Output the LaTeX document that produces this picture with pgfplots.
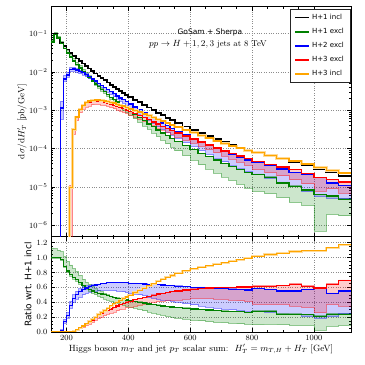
\documentclass[border=0pt]{standalone}
\usepackage{pgfplots}
\pgfplotsset{compat=1.18}
\usepackage{pgfplotstable}
\usepgfplotslibrary{fillbetween}
\usepackage{fontspec}
\newfontfamily\dejavu{DejaVu Sans}
\definecolor{mplgreen}{RGB}{0,128,0}
\definecolor{mplblue}{RGB}{0,0,255}
\definecolor{mplred}{RGB}{255,0,0}
\definecolor{mplorange}{RGB}{255,165,0}

% x = left bin edge; blk = H+1 incl [pb/GeV]; other columns = ratio wrt. H+1 incl
\pgfplotstableread{
x blk g gl gu b bl bu r rl ru o
150 0.0603 1.00 0.99 1.13 1e-6 1e-6 1e-6 1e-6 1e-6 1e-6 1e-6
160 0.0955 1.00 0.99 1.12 1e-6 1e-6 1e-6 1e-6 1e-6 1e-6 1e-6
170 0.0759 1.00 0.99 1.10 1e-6 1e-6 1e-6 1e-6 1e-6 1e-6 1e-6
180 0.0575 0.97 0.96 1.08 0.02 0.01 0.03 1e-6 1e-6 1e-6 1e-6
190 0.0468 0.88 0.87 1.01 0.14 0.12 0.17 1e-6 1e-6 1e-6 1e-6
200 0.0380 0.82 0.80 0.95 0.22 0.19 0.26 1e-6 1e-6 1e-6 1e-6
210 0.0316 0.77 0.75 0.90 0.36 0.32 0.41 0.0003 1e-6 0.00035 0.0003
220 0.0263 0.73 0.71 0.85 0.45 0.40 0.50 0.012 0.009 0.013 0.012
230 0.0221 0.70 0.68 0.81 0.50 0.44 0.55 0.030 0.024 0.032 0.030
240 0.0191 0.66 0.64 0.76 0.54 0.47 0.58 0.055 0.045 0.058 0.055
250 0.0166 0.62 0.60 0.71 0.57 0.50 0.61 0.080 0.065 0.084 0.080
260 0.0143 0.59 0.57 0.67 0.59 0.52 0.62 0.105 0.085 0.11 0.11
270 0.0123 0.57 0.545 0.64 0.61 0.535 0.63 0.13 0.105 0.135 0.14
280 0.0106 0.55 0.52 0.61 0.62 0.545 0.635 0.16 0.13 0.165 0.17
290 0.00912 0.53 0.50 0.58 0.63 0.55 0.64 0.19 0.155 0.195 0.20
300 0.00785 0.52 0.48 0.56 0.64 0.555 0.645 0.22 0.18 0.225 0.235
310 0.00684 0.51 0.46 0.54 0.65 0.56 0.655 0.245 0.20 0.25 0.265
320 0.00603 0.50 0.445 0.52 0.655 0.56 0.66 0.27 0.22 0.275 0.29
330 0.00525 0.49 0.43 0.50 0.66 0.56 0.665 0.29 0.24 0.295 0.32
340 0.00457 0.475 0.41 0.485 0.665 0.56 0.67 0.31 0.255 0.315 0.35
350 0.00403 0.465 0.40 0.47 0.665 0.555 0.67 0.33 0.27 0.335 0.38
360 0.00355 0.455 0.385 0.46 0.665 0.55 0.67 0.35 0.285 0.355 0.40
370 0.00316 0.45 0.375 0.455 0.66 0.545 0.665 0.37 0.30 0.375 0.425
380 0.00282 0.44 0.36 0.445 0.665 0.54 0.67 0.385 0.31 0.39 0.45
390 0.00251 0.43 0.35 0.435 0.66 0.53 0.665 0.40 0.325 0.405 0.47
400 0.00219 0.42 0.335 0.425 0.655 0.52 0.66 0.415 0.335 0.42 0.495
415 0.00186 0.41 0.32 0.415 0.655 0.51 0.66 0.435 0.35 0.44 0.53
430 0.00160 0.40 0.30 0.405 0.65 0.50 0.655 0.45 0.36 0.455 0.56
445 0.00136 0.39 0.285 0.395 0.645 0.49 0.65 0.465 0.375 0.47 0.59
460 0.00117 0.375 0.27 0.38 0.64 0.47 0.645 0.48 0.385 0.485 0.62
475 0.00100 0.37 0.255 0.375 0.64 0.455 0.645 0.495 0.395 0.50 0.65
490 0.000851 0.36 0.24 0.365 0.635 0.44 0.64 0.51 0.405 0.515 0.68
505 0.000733 0.35 0.225 0.355 0.63 0.43 0.635 0.52 0.41 0.525 0.71
520 0.000631 0.34 0.21 0.345 0.625 0.42 0.63 0.53 0.42 0.535 0.735
535 0.000543 0.335 0.20 0.34 0.62 0.41 0.625 0.54 0.425 0.545 0.76
550 0.000457 0.33 0.19 0.335 0.615 0.40 0.62 0.55 0.43 0.555 0.79
575 0.000372 0.32 0.175 0.325 0.61 0.38 0.615 0.565 0.44 0.57 0.82
600 0.000309 0.31 0.16 0.315 0.60 0.365 0.605 0.575 0.45 0.58 0.85
625 0.000251 0.30 0.15 0.305 0.60 0.35 0.605 0.585 0.45 0.59 0.87
650 0.000209 0.295 0.14 0.30 0.595 0.335 0.60 0.59 0.45 0.595 0.89
675 0.000174 0.285 0.13 0.29 0.59 0.32 0.595 0.595 0.445 0.60 0.91
700 0.000145 0.28 0.125 0.285 0.58 0.31 0.585 0.60 0.44 0.605 0.93
725 0.000123 0.275 0.12 0.28 0.575 0.30 0.58 0.60 0.43 0.605 0.95
750 0.000105 0.27 0.11 0.275 0.57 0.29 0.575 0.605 0.42 0.61 0.97
775 0.0000891 0.265 0.105 0.27 0.565 0.28 0.57 0.605 0.41 0.61 0.99
800 0.0000759 0.275 0.10 0.285 0.58 0.28 0.585 0.61 0.37 0.62 1.02
840 0.0000631 0.28 0.105 0.29 0.57 0.27 0.575 0.61 0.37 0.62 1.04
880 0.0000525 0.24 0.10 0.255 0.55 0.235 0.555 0.62 0.37 0.63 1.06
920 0.0000437 0.235 0.09 0.245 0.55 0.235 0.555 0.64 0.35 0.65 1.08
960 0.0000363 0.23 0.09 0.24 0.57 0.21 0.575 0.61 0.33 0.62 1.09
1000 0.0000295 0.21 0.024 0.22 0.60 0.19 0.605 0.59 0.26 0.60 1.09
1040 0.0000240 0.24 0.08 0.25 0.52 0.21 0.525 0.64 0.37 0.65 1.13
1080 0.0000195 0.24 0.09 0.25 0.55 0.25 0.555 0.69 0.35 0.70 1.17
1120 0.0000195 0.24 0.09 0.25 0.55 0.25 0.555 0.69 0.35 0.70 1.17
}\data

\pgfplotsset{
 common/.style={anchor=south west, width=300bp, scale only axis,
   xmin=150, xmax=1120, xtick={200,400,600,800,1000}, minor x tick num=3,
   xticklabel style={/pgf/number format/set thousands separator={}},
   grid=major, major grid style={dotted, black!45, line width=0.5pt},
   tick style={black, line width=0.5pt}, major tick length=4bp, minor tick length=2bp,
   axis line style={black, line width=0.6pt},
   tick label style={font=\fontsize{8bp}{9bp}\selectfont},
   label style={font=\fontsize{9bp}{11bp}\selectfont}},
 hist/.style={const plot mark left, forget plot, mark=none},
 edge/.style={const plot mark left, forget plot, mark=none, line width=0.7pt, draw opacity=0.4},
}

\begin{document}
\begin{tikzpicture}

% ---------------- top panel ----------------
\begin{axis}[common, at={(51bp,128.3bp)}, height=230bp,
  ymode=log, ymin=5e-7, ymax=0.5,
  ytick={1e-6,1e-5,1e-4,1e-3,1e-2,1e-1}, xticklabels={},
  ylabel={$\mathrm{d}\sigma/\mathrm{d}H_T'$ [pb/GeV]},
  ylabel style={at={(axis description cs:-0.097,0.5)}, anchor=center},
  legend image code/.code={\draw[#1, line width=1.8pt] (0bp,0bp) -- (14bp,0bp);},
  legend cell align=left,
  legend style={at={(0.997,0.99)}, anchor=north east, draw=black!85,
    font=\dejavu\fontsize{7bp}{8.5bp}\selectfont, inner xsep=4bp, inner ysep=3bp, row sep=3.3bp},
]
\addlegendimage{draw=black}\addlegendentry{H+1 incl\hspace{6bp}}
\addlegendimage{draw=mplgreen}\addlegendentry{H+1 excl}
\addlegendimage{draw=mplblue}\addlegendentry{H+2 excl}
\addlegendimage{draw=mplred}\addlegendentry{H+3 excl}
\addlegendimage{draw=mplorange}\addlegendentry{H+3 incl}

\addplot[edge, draw=mplgreen, name path=gu] table[x=x, y expr=\thisrow{blk}*\thisrow{gu}]{\data};
\addplot[edge, draw=mplgreen, name path=gl] table[x=x, y expr=\thisrow{blk}*\thisrow{gl}]{\data};
\addplot[fill=mplgreen, fill opacity=0.2, draw=none, forget plot] fill between[of=gu and gl];

\addplot[edge, draw=mplblue, name path=bu] table[x=x, y expr=\thisrow{blk}*\thisrow{bu}]{\data};
\addplot[edge, draw=mplblue, name path=bl] table[x=x, y expr=\thisrow{blk}*\thisrow{bl}]{\data};
\addplot[fill=mplblue, fill opacity=0.2, draw=none, forget plot] fill between[of=bu and bl];

\addplot[edge, draw=mplred, name path=ru] table[x=x, y expr=\thisrow{blk}*\thisrow{ru}]{\data};
\addplot[edge, draw=mplred, name path=rl] table[x=x, y expr=\thisrow{blk}*\thisrow{rl}]{\data};
\addplot[fill=mplred, fill opacity=0.2, draw=none, forget plot] fill between[of=ru and rl];

\addplot[hist, black, line width=1.7pt] table[x=x, y=blk]{\data};
\addplot[hist, mplgreen, line width=1.4pt] table[x=x, y expr=\thisrow{blk}*\thisrow{g}]{\data};
\addplot[hist, mplblue, line width=1.4pt] table[x=x, y expr=\thisrow{blk}*\thisrow{b}]{\data};
\addplot[hist, mplred, line width=1.4pt] table[x=x, y expr=\thisrow{blk}*\thisrow{r}]{\data};
\addplot[hist, mplorange!40, line width=2.6pt] table[x=x, y expr=\thisrow{blk}*\thisrow{o}]{\data};
\addplot[hist, mplorange, line width=1.4pt] table[x=x, y expr=\thisrow{blk}*\thisrow{o}]{\data};

\node[font=\dejavu\fontsize{7.5bp}{9bp}\selectfont] at (rel axis cs:0.53,0.886) {GoSam + Sherpa};
\node[font=\fontsize{8.5bp}{10bp}\selectfont] at (rel axis cs:0.523,0.838) {$pp\to H+1,2,3$ jets at 8 TeV};
\end{axis}

% ---------------- ratio panel ----------------
\begin{axis}[common, at={(51bp,33bp)}, height=95.3bp,
  ymin=0, ymax=1.28, ytick={0,0.2,0.4,0.6,0.8,1.0,1.2}, minor y tick num=3,
  yticklabel style={/pgf/number format/.cd, fixed, fixed zerofill, precision=1},
  xlabel={Higgs boson $m_T$ and jet $p_T$ scalar sum:\ \ $H_T' = m_{T,H} + H_T$ [GeV]},
  xlabel style={at={(axis description cs:0.5,-0.18)}, anchor=center},
  ylabel={\dejavu Ratio wrt.\ H+1 incl},
  ylabel style={at={(axis description cs:-0.077,0.5)}, anchor=center},
]
\addplot[edge, draw=mplgreen, name path=Gu] table[x=x, y=gu]{\data};
\addplot[edge, draw=mplgreen, name path=Gl] table[x=x, y=gl]{\data};
\addplot[fill=mplgreen, fill opacity=0.2, draw=none, forget plot] fill between[of=Gu and Gl];

\addplot[edge, draw=mplblue, name path=Bu] table[x=x, y=bu]{\data};
\addplot[edge, draw=mplblue, name path=Bl] table[x=x, y=bl]{\data};
\addplot[fill=mplblue, fill opacity=0.2, draw=none, forget plot] fill between[of=Bu and Bl];

\addplot[edge, draw=mplred, name path=Ru] table[x=x, y=ru]{\data};
\addplot[edge, draw=mplred, name path=Rl] table[x=x, y=rl]{\data};
\addplot[fill=mplred, fill opacity=0.2, draw=none, forget plot] fill between[of=Ru and Rl];

\addplot[hist, mplgreen, line width=1.2pt] table[x=x, y=g]{\data};
\addplot[hist, mplblue, line width=1.2pt] table[x=x, y=b]{\data};
\addplot[hist, mplred, line width=1.2pt] table[x=x, y=r]{\data};
\addplot[hist, mplorange!40, line width=2.2pt] table[x=x, y=o]{\data};
\addplot[hist, mplorange, line width=1.1pt] table[x=x, y=o]{\data};
\end{axis}

\path (0,0) rectangle (365bp,365bp);
\end{tikzpicture}
\end{document}
